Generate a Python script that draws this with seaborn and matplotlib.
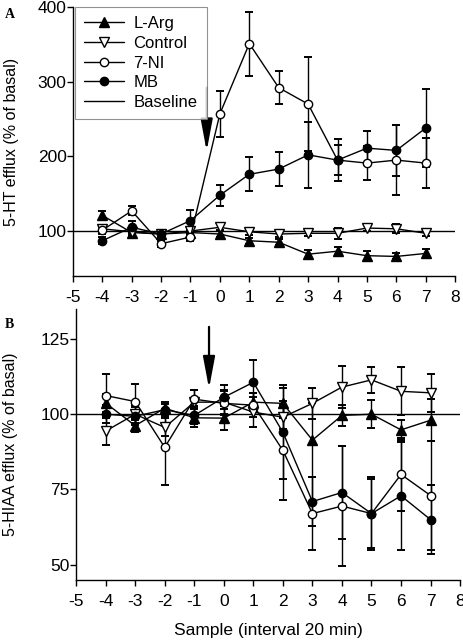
import seaborn as sns
import matplotlib.pyplot as plt
from matplotlib.lines import Line2D
import numpy as np
import pandas as pd

# sample index (interval 20 min)
samples = [-4, -3, -2, -1, 0, 1, 2, 3, 4, 5, 6, 7]

# panel A: 5-HT efflux (% of basal)
ht_larg = [121, 98, 96, 98, 96, 87, 85, 69, 73, 67, 66, 70]
ht_larg_err = [6, 5, 4, 4, 4, 4, 4, 5, 5, 6, 4, 6]
ht_control = [103, 99, 96, 100, 105, 99, 96, 97, 97, 104, 103, 97]
ht_control_err = [4, 4, 4, 4, 4, 4, 4, 4, 7, 4, 6, 4]
ht_7ni = [101, 127, 83, 92, 257, 351, 292, 270, 195, 191, 195, 191]
ht_7ni_err = [5, 6, 4, 6, 31, 43, 22, 63, 20, 23, 47, 34]
ht_mb = [87, 105, 96, 114, 148, 176, 183, 202, 195, 211, 208, 238]
ht_mb_err = [5, 8, 5, 14, 14, 23, 23, 44, 28, 23, 34, 52]

# panel B: 5-HIAA efflux (% of basal)
hiaa_larg = [103.7, 96.2, 102, 98.8, 98.7, 104, 103.6, 91.4, 99.6, 100, 94.8, 98]
hiaa_larg_err = [3, 2, 2, 3, 4, 3, 5, 12.4, 3.4, 4.7, 3.3, 7]
hiaa_control = [94.4, 100, 95.6, 104, 104, 100.7, 99, 103.6, 109, 111.4, 107.6, 107.1]
hiaa_control_err = [4.5, 3, 3, 4, 4, 5, 4, 5.2, 7, 4.3, 8, 6.3]
hiaa_7ni = [106.2, 104.2, 89, 105, 103.6, 103, 88, 67, 69.5, 67, 80, 73]
hiaa_7ni_err = [7.2, 5.8, 12.6, 3, 4, 4, 16.5, 12, 20, 11.5, 12, 18]
hiaa_mb = [100, 99.3, 101.5, 99.6, 105.6, 110.6, 94, 71, 74, 67, 72.9, 65]
hiaa_mb_err = [3, 3, 2, 3, 4, 7.4, 15.6, 8, 15.6, 12, 18, 11.5]

group_names = ["L-Arg", "Control", "7-NI", "MB"]
xticks = list(range(-5, 9))

sns.set_theme(style="ticks", rc={
    "axes.edgecolor": "black", "axes.linewidth": 1.0,
    "xtick.color": "black", "ytick.color": "black",
    "text.color": "black", "axes.labelcolor": "black",
    "xtick.major.width": 1.0, "ytick.major.width": 1.0,
})
plt.rcParams["font.family"] = ["Liberation Sans", "DejaVu Sans"]

styles = {
    "L-Arg": dict(marker="^", mfc="black", ms=6.5),
    "Control": dict(marker="v", mfc="white", ms=6.5),
    "7-NI": dict(marker="o", mfc="white", ms=6),
    "MB": dict(marker="o", mfc="black", ms=6),
}

fig = plt.figure(figsize=(4.64, 6.4), dpi=100)
axA = fig.add_axes([0.157, 0.569, 0.824, 0.42])
axB = fig.add_axes([0.164, 0.094, 0.8276, 0.4235])


def draw(ax, series, errs):
    ax.axhline(100, color="black", lw=1.0, zorder=1)
    for name, vals, err in zip(group_names, series, errs):
        ax.errorbar(samples, vals, yerr=err, fmt="none", ecolor="black",
                    elinewidth=1.0, capsize=3.2, capthick=1.4, zorder=2)
        st = styles[name]
        df = pd.DataFrame({"sample": samples, "value": vals})
        sns.lineplot(data=df, x="sample", y="value", ax=ax, color="black",
                     linewidth=1.0, marker=st["marker"], markersize=st["ms"],
                     markerfacecolor=st["mfc"], markeredgecolor="black",
                     markeredgewidth=1.0, zorder=3, legend=False)
    ax.set_xlim(-5, 8)
    ax.set_xticks(xticks)
    ax.set_xticklabels([str(t) for t in xticks])
    ax.tick_params(axis="x", direction="out", length=4, pad=6.5, labelsize=12.5)
    ax.tick_params(axis="y", direction="out", length=4, pad=0.5, labelsize=12.5)
    sns.despine(ax=ax)


draw(axA, [ht_larg, ht_control, ht_7ni, ht_mb],
     [ht_larg_err, ht_control_err, ht_7ni_err, ht_mb_err])
draw(axB, [hiaa_larg, hiaa_control, hiaa_7ni, hiaa_mb],
     [hiaa_larg_err, hiaa_control_err, hiaa_7ni_err, hiaa_mb_err])

axA.set_ylim(40, 400)
axA.set_yticks([100, 200, 300, 400])
axA.set_xlabel("")
axA.set_ylabel("5-HT efflux (% of basal)", fontsize=11.5)
axA.yaxis.set_label_coords(-0.142, 0.5)

axB.set_ylim(45, 135)
axB.set_yticks([50, 75, 100, 125])
axB.set_xlabel("Sample (interval 20 min)", fontsize=12.5, labelpad=10)
axB.set_ylabel("5-HIAA efflux (% of basal)", fontsize=11.5)
axB.yaxis.set_label_coords(-0.15, 0.5)

arrow = dict(arrowstyle="-|>,head_length=1.6,head_width=0.3", color="black",
             lw=1.6, shrinkA=0, shrinkB=0)
axA.annotate("", xy=(-0.45, 207), xytext=(-0.45, 292), arrowprops=arrow)
axB.annotate("", xy=(-0.5, 108.5), xytext=(-0.5, 129), arrowprops=arrow)

handles = [Line2D([], [], color="black", lw=1.0, marker=styles[n]["marker"],
                  ms=styles[n]["ms"], mfc=styles[n]["mfc"], mec="black")
           for n in group_names]
handles.append(Line2D([], [], color="black", lw=1.0))
leg = axA.legend(handles, group_names + ["Baseline"], loc="upper left",
                 bbox_to_anchor=(0.006, 1.0), borderaxespad=0, fontsize=12,
                 frameon=True, fancybox=False, edgecolor="#777777",
                 handlelength=2.4, handletextpad=0.55, labelspacing=0.28,
                 borderpad=0.55)
leg.get_frame().set_linewidth(0.8)

fig.text(0.011, 0.972, "A", fontsize=10, fontweight="bold", family="Liberation Serif")
fig.text(0.011, 0.488, "B", fontsize=10, fontweight="bold", family="Liberation Serif")

fig.savefig("out.png", dpi=100)
